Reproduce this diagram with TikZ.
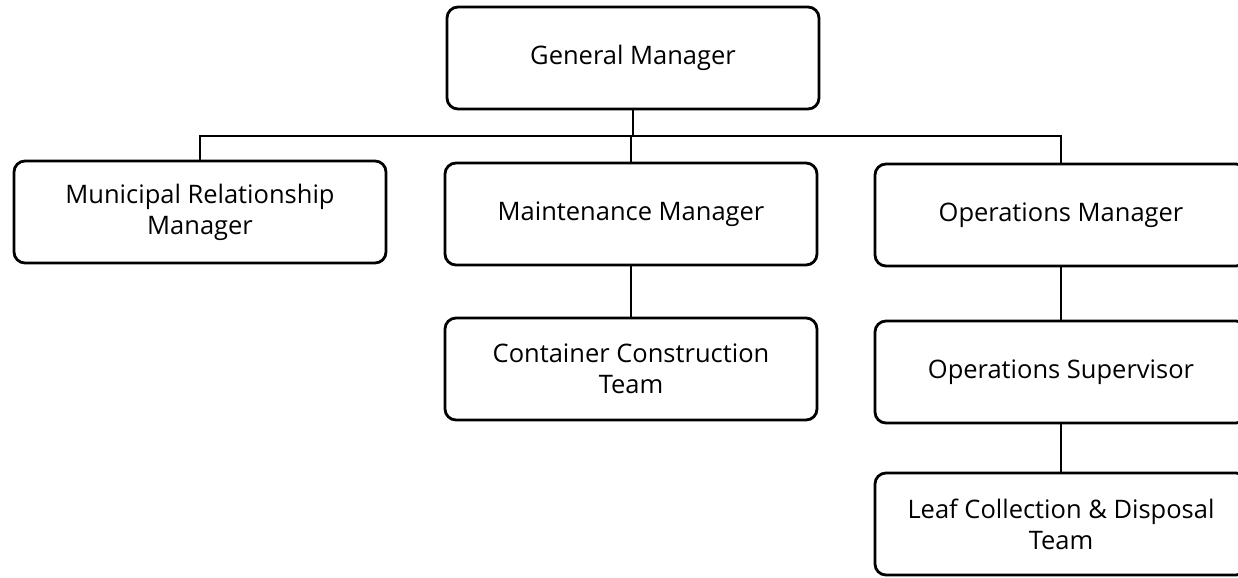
\documentclass[tikz,border=0pt]{standalone}
\usepackage{fontspec}
\setmainfont{Open Sans}
\tikzset{
  role/.style={draw, line width=1.6pt, rounded corners=0.22cm, minimum width=7.44cm,
    minimum height=2.04cm, align=center, font=\fontsize{14.5}{17.5}\selectfont},
  link/.style={line width=1.6pt}
}
\begin{document}
\begin{tikzpicture}
\useasboundingbox (0,0) rectangle (24.76,-11.54);
\pgfmathsetmacro{\busy}{-2.72}
\node[role] (gm)  at (12.66,-1.16)  {General Manager};
\node[role] (mrm) at (4.0,-4.24)    {Municipal Relationship\\Manager};
\node[role] (mm)  at (12.62,-4.28)  {Maintenance Manager};
\node[role] (om)  at (21.22,-4.30)  {Operations Manager};
\node[role] (cct) at (12.62,-7.38)  {Container Construction\\Team};
\node[role] (os)  at (21.22,-7.44)  {Operations Supervisor};
\node[role] (lcd) at (21.22,-10.48) {Leaf Collection \& Disposal\\Team};
\coordinate (bus) at (0,\busy);
\draw[link] (gm.south) -- (gm.south |- bus);
\draw[link] (mrm.north) |- (om.north |- bus) -- (om.north);
\draw[link] (mm.north) -- (mm.north |- bus);
\draw[link] (mm.south) -- (cct.north);
\draw[link] (om.south) -- (os.north);
\draw[link] (os.south) -- (lcd.north);
\end{tikzpicture}
\end{document}
